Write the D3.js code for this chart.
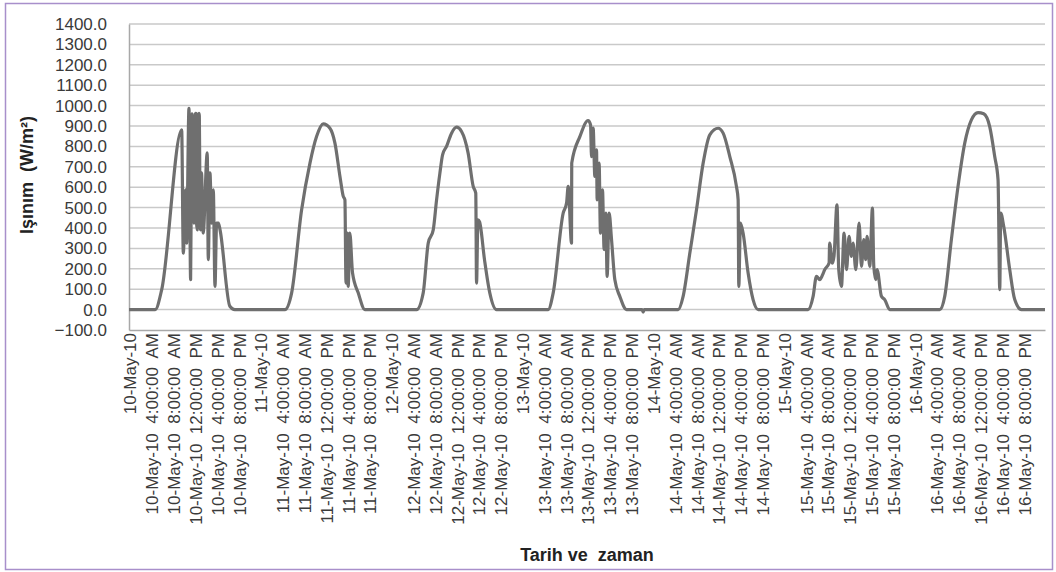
<html>
<head>
    <meta charset="utf-8" />
    <title>Işınım</title>
    <script src="https://d3js.org/d3.v7.min.js"></script>
    <style>
      body { margin: 0; background: #fff; }
      svg text { font-family: "Liberation Sans", Arial, sans-serif; }
    </style>
</head>
<body>
    <svg class="chart"></svg>
    <script type="application/javascript">
    // days shown on the x axis
    const days = ["2010-05-10", "2010-05-11", "2010-05-12", "2010-05-13", "2010-05-14", "2010-05-15", "2010-05-16"];
    // y axis tick values
    const yTicks = [-100, 0, 100, 200, 300, 400, 500, 600, 700, 800, 900, 1000, 1100, 1200, 1300, 1400];

    // irradiance per day: [hour of day, W/m2]
    const may10 = [[0,0],[4.8,0],[6.0,98],[9.66,881],[9.96,277],[10.39,587],[10.57,326],[11.0,987],[11.3,147],[11.45,700],
      [11.55,960],[11.67,946],[11.9,424],[12.0,950],[12.1,450],[12.2,960],[12.28,962],[12.4,420],[12.53,391],[12.6,950],
      [12.7,430],[12.83,962],[12.9,950],[13.0,600],[13.1,391],[13.3,670],[13.6,375],[14.35,768],[14.54,245],[14.85,670],
      [15.16,424],[15.46,587],[15.77,114],[16.07,424],[16.4,424],[16.7,391],[18.5,16],[19.4,0]];
    const may11 = [[0,0],[4.6,0],[5.83,82],[7.66,489],[9.19,718],[10.4,848],[11.63,910],[12.85,889],[13.77,816],[14.69,653],
      [15.3,555],[15.6,538],[15.8,130],[16.03,375],[16.2,114],[16.5,375],[17.0,179],[18.04,82],[19.27,0]];
    const may12 = [[0,0],[4.75,0],[5.96,82],[6.88,326],[7.8,391],[8.41,538],[9.02,669],[9.51,759],[10.24,800],[11.16,865],
      [12.07,894],[12.99,873],[14.2,767],[15.13,604],[15.6,571],[15.74,130],[16.0,440],[16.3,430],[17.2,245],[18.17,82],[19.4,0]];
    const may13 = [[0,0],[4.88,0],[5.8,82],[7.63,473],[8.25,522],[8.55,604],[9.16,326],[9.2,718],[10.69,848],[12.2,927],
      [12.65,906],[12.83,750],[13.13,890],[13.44,653],[13.75,783],[13.86,538],[14.22,718],[14.47,375],[14.84,587],[15.14,294],
      [15.45,473],[15.69,163],[16.06,473],[16.5,343],[17.1,147],[18.02,65],[19.25,0],[22.1,0],[22.3,-12],[22.5,0]];
    const may14 = [[0,0],[4.72,0],[5.63,65],[6.86,277],[8.08,489],[9.3,718],[10.52,857],[12.05,889],[12.97,865],[14.19,750],
      [15.41,604],[15.72,538],[15.84,114],[16.14,424],[16.63,375],[17.55,179],[18.46,49],[19.38,0]];
    const may15 = [[0,0],[4.55,0],[5.47,65],[6.08,163],[6.69,147],[7.2,170],[7.6,196],[8.4,228],[8.5,326],[9.0,228],
      [9.3,261],[9.85,514],[10.17,196],[10.67,114],[11.15,375],[11.6,196],[12.06,359],[12.5,261],[12.8,326],[13.3,196],
      [13.9,424],[14.34,212],[14.76,343],[15.13,245],[15.37,359],[15.86,212],[16.35,497],[16.6,212],[16.96,147],[17.2,196],
      [18.0,65],[18.6,49],[19.53,0]];
    const may16 = [[0,0],[4.69,0],[5.61,65],[6.83,343],[8.05,604],[9.28,816],[10.5,930],[11.72,966],[12.76,960],[13.86,897],
      [14.78,750],[15.39,636],[15.7,98],[15.88,473],[16.43,408],[17.53,196],[18.45,49],[19.68,0],[24,0]];

    const perDay = [may10, may11, may12, may13, may14, may15, may16];

    const width = 1056, height = 572;
    const margin = { left: 129, right: 1045, top: 24, bottom: 330 };

    const parseDay = d3.timeParse("%Y-%m-%d");
    const start = parseDay(days[0]);
    const end = d3.timeDay.offset(parseDay(days[days.length - 1]), 1);

    // flatten into time points
    const points = [];
    perDay.forEach(function(arr, i) {
      const base = parseDay(days[i]);
      arr.forEach(function(p) {
        points.push({ t: new Date(base.getTime() + p[0] * 3600e3), v: p[1] });
      });
    });

    const x = d3.scaleTime().domain([start, end]).range([margin.left, margin.right]);
    const y = d3.scaleLinear().domain([-100, 1400]).range([margin.bottom, margin.top]);

    const svg = d3.select("svg")
      .attr("width", width)
      .attr("height", height);

    // outer frame
    svg.append("rect")
      .attr("x", 5.5).attr("y", 3.5)
      .attr("width", 1047).attr("height", 566)
      .attr("fill", "none")
      .attr("stroke", "#a88fcb")
      .attr("stroke-width", 1.5);

    // gridlines
    svg.append("g")
      .selectAll("line")
      .data(yTicks.filter(d => d > -100))
      .enter()
      .append("line")
      .attr("x1", margin.left).attr("x2", margin.right)
      .attr("y1", d => y(d)).attr("y2", d => y(d))
      .attr("stroke", "#c9c9c9")
      .attr("stroke-width", 1.5);

    // y axis
    const yAxis = svg.append("g")
      .attr("transform", "translate(" + margin.left + ",0)")
      .call(d3.axisLeft(y).tickValues(yTicks).tickFormat(d3.format(".1f")).tickSize(0).tickPadding(22));
    yAxis.select(".domain").attr("stroke", "#a8a8a8").attr("stroke-width", 1.5);
    yAxis.selectAll("text").attr("font-size", 17).attr("fill", "#3a3a3a");

    // x axis
    const fDay = d3.timeFormat("%-d-%b-%y");
    const fTime = d3.timeFormat("%-I:%M:%S");
    const fAmPm = d3.timeFormat("%p");
    const xTicks = d3.timeHour.every(4).range(start, end);
    const xAxis = svg.append("g")
      .attr("transform", "translate(0," + margin.bottom + ")")
      .call(d3.axisBottom(x).tickValues(xTicks).tickSize(0)
        .tickFormat(d => d.getHours() === 0 ? fDay(d) : fDay(d) + "  " + fTime(d) + "  " + fAmPm(d)));
    xAxis.select(".domain").attr("stroke", "#a8a8a8").attr("stroke-width", 1.5);
    xAxis.selectAll("text")
      .attr("font-size", 17)
      .attr("fill", "#3a3a3a")
      .style("white-space", "pre")
      .attr("transform", "rotate(-90)")
      .attr("x", -3)
      .attr("y", 1)
      .attr("dy", "0.35em")
      .style("text-anchor", "end");

    // series line
    const line = d3.line().x(d => x(d.t)).y(d => y(d.v)).curve(d3.curveMonotoneX);
    svg.append("path")
      .datum(points)
      .attr("d", line)
      .attr("fill", "none")
      .attr("stroke", "#6f6f6f")
      .attr("stroke-width", 3.2)
      .attr("stroke-linejoin", "round");

    // axis titles
    svg.append("text")
      .attr("transform", "translate(33,175) rotate(-90)")
      .attr("text-anchor", "middle")
      .attr("font-size", 18)
      .attr("font-weight", "bold")
      .attr("fill", "#222")
      .style("white-space", "pre")
      .text("Işınım  (W/m²)");

    svg.append("text")
      .attr("x", (margin.left + margin.right) / 2)
      .attr("y", 561)
      .attr("text-anchor", "middle")
      .attr("font-size", 18)
      .attr("font-weight", "bold")
      .attr("fill", "#222")
      .style("white-space", "pre")
      .text("Tarih ve  zaman");
    </script>
</body>
</html>
